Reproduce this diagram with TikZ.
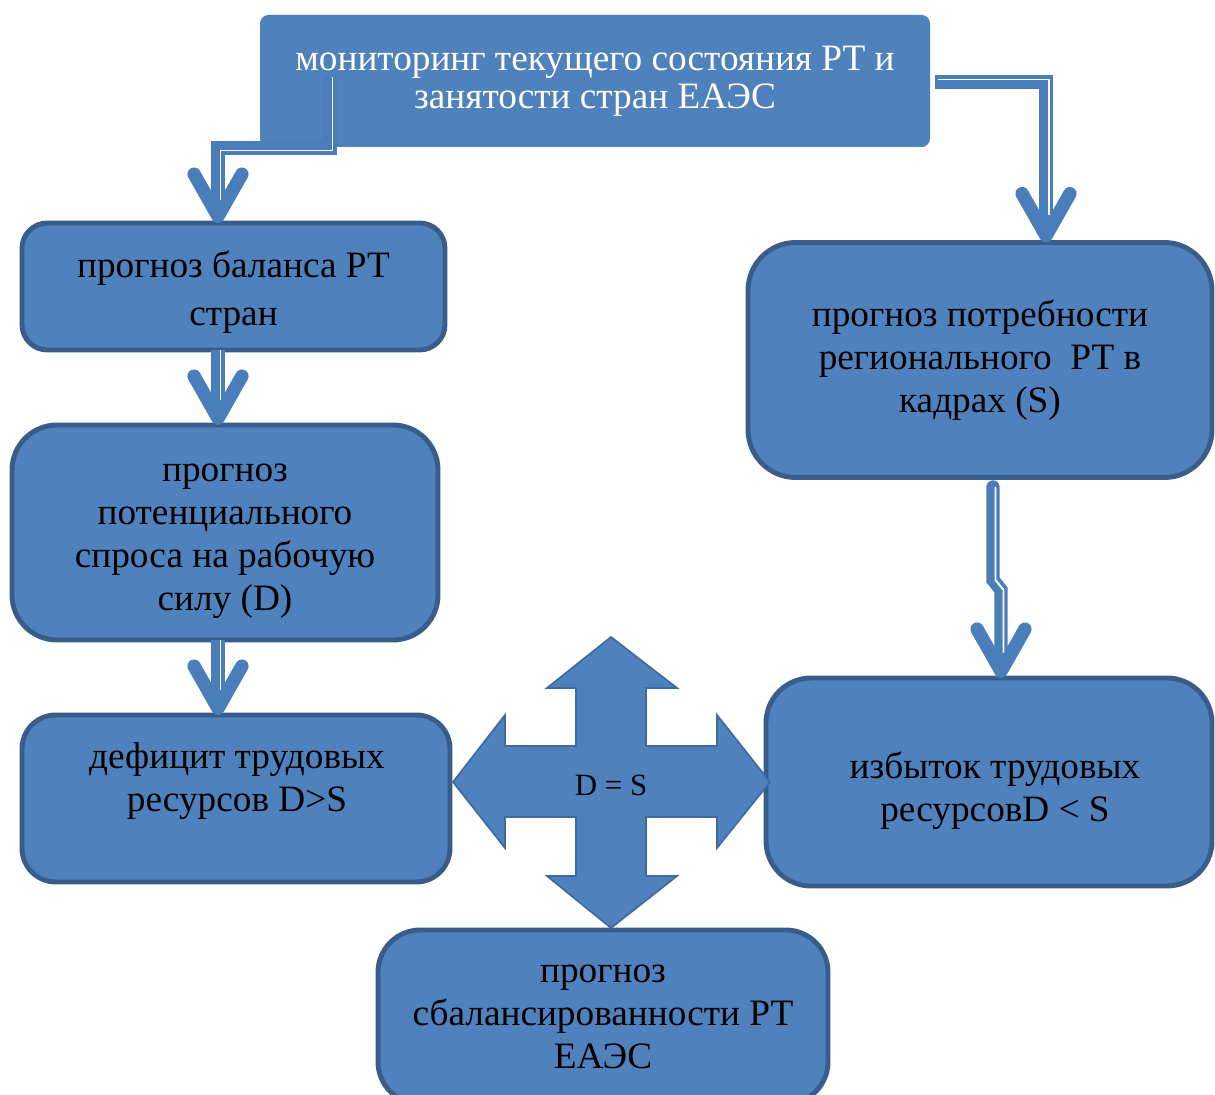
\documentclass[tikz,border=0pt]{standalone}
\usepackage{fontspec}
\setmainfont{Liberation Serif}
\usetikzlibrary{arrows.meta,positioning,calc}
\definecolor{BoxBlue}{HTML}{4F81BD}
\definecolor{BoxEdge}{HTML}{385D8A}
\definecolor{FlowBlue}{HTML}{4A7EBB}
\definecolor{CrossEdge}{HTML}{3E6A9F}

\begin{document}
\begin{tikzpicture}[x=0.025cm,y=-0.025cm,
  box/.style={draw=BoxEdge,fill=BoxBlue,line width=3.5pt,rounded corners=25pt,inner sep=0pt,outer sep=0pt,
    align=center,font=\fontsize{26.5}{30.6}\selectfont},
  size/.style 2 args={minimum width=#1*0.025cm,minimum height=#2*0.025cm},
  txt/.style={align=center,font=\fontsize{26.5}{30.6}\selectfont},
  flow/.style={draw=FlowBlue,line width=9.5pt,-{Straight Barb[length=30pt,width=34pt,round]}},
  gap/.style={draw=white,line width=1.4pt,shorten >=18pt}
]
\useasboundingbox (0,0) rectangle (1215,1095);

% boxes
\node[box,draw=none,rounded corners=6pt,text=white,size={670}{132},
  font=\fontsize{26.5}{27}\selectfont] (monitor) at (595,81) {мониторинг текущего состояния РТ и\\занятости стран ЕАЭС};
\node[box,rounded corners=18pt,size={423}{127}] (balance) at (233.5,286.5) {};
\node[txt,font=\fontsize{26.5}{34}\selectfont] (balance-t) at (233.5,292.5) {прогноз баланса РТ\\стран};
\node[box,rounded corners=32pt,size={426}{215}] (potential) at (225,532.5) {};
\node[txt] (potential-t) at (225,541) {прогноз\\потенциального\\спроса на рабочую\\силу (D)};
\node[box,rounded corners=24pt,size={428}{167}] (deficit) at (236,798.5) {};
\node[txt] (deficit-t) at (237,781) {дефицит трудовых\\ресурсов D>S};
\node[box,rounded corners=34pt,size={464}{235}] (need) at (980,360) {прогноз потребности\\регионального~ РТ в\\кадрах (S)};
\node[box,rounded corners=32pt,size={446}{208}] (surplus) at (989,782) {};
\node[txt] (surplus-t) at (995,791) {избыток трудовых\\ресурсовD < S};
\node[box,rounded corners=30pt,size={450}{174}] (balanced) at (603,1017) {прогноз\\сбалансированности РТ\\ЕАЭС};

% four-way arrow
\draw[fill=BoxBlue,draw=CrossEdge,line width=1.2pt,line join=miter]
  (611,637) -- (677,688) -- (646,688) -- (646,746) -- (717,746) -- (717,715) -- (770,782)
  -- (717,848) -- (717,817) -- (646,817) -- (646,876) -- (677,876) -- (611,928)
  -- (547,876) -- (576,876) -- (576,817) -- (505,817) -- (505,848) -- (453,782)
  -- (505,715) -- (505,746) -- (576,746) -- (576,688) -- (547,688) -- cycle;
\node[font=\fontsize{22}{25}\selectfont] (eq) at (611,785) {D = S};

% arrows
\coordinate (m1) at (330,75);
\coordinate (m2) at (935,82);
\coordinate (n1) at (993,487);
\draw[flow] (m1) |- (218,148) -- (218,148 |- balance.north);
\draw[gap,transform canvas={shift={(2.5,2.5)}}] (m1) |- (218,148) -- (218,148 |- balance.north);
\draw[flow] (m2) -- (1046,82) -- (1046,82 |- need.north);
\draw[gap,transform canvas={shift={(2.5,-2.5)}}] (m2) -- (1046,82) -- (1046,82 |- need.north);
\draw[flow] (balance.south -| 218,0) -- (potential.north -| 218,0);
\draw[gap,transform canvas={shift={(2.5,0)}}] (balance.south -| 218,0) -- (potential.north -| 218,0);
\draw[flow] (potential.south -| 218,0) -- (deficit.north -| 218,0);
\draw[gap,transform canvas={shift={(2.5,0)}}] (potential.south -| 218,0) -- (deficit.north -| 218,0);
\draw[flow,line cap=round] (n1) -- (993,580) -- (1001,590) -- (surplus.north -| 1001,0);
\draw[gap,transform canvas={shift={(2.5,0)}}] (n1) -- (993,580) -- (1001,590) -- (surplus.north -| 1001,0);
\end{tikzpicture}
\end{document}
